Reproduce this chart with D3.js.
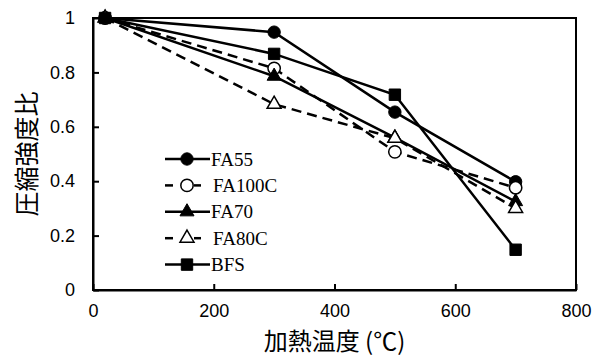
<!DOCTYPE html>
<html>
<head>
<meta charset="utf-8">
<script src="https://cdn.jsdelivr.net/npm/d3@7"></script>
<style>
  body { margin: 0; background: #fff; }
  .lg-text { font-family: "Liberation Serif", "Times New Roman", Times, "DejaVu Serif", serif; font-size: 19px; }
</style>
</head>
<body>
<div id="chart"></div>
<script>
"use strict";

// heating temperature (°C)
const temps = [20, 300, 500, 700];
const seriesNames = ["FA55", "FA100C", "FA70", "FA80C", "BFS"];
const fa55   = [1, 0.948, 0.654, 0.398];
const fa100c = [1, 0.815, 0.508, 0.376];
const fa70   = [1, 0.786, 0.56, 0.325];
const fa80c  = [1, 0.683, 0.558, 0.30];
const bfs    = [1, 0.868, 0.718, 0.148];
const xTicks = [0, 200, 400, 600, 800];
const yTicks = [0, 0.2, 0.4, 0.6, 0.8, 1];

const series = [
    {name: seriesNames[0], values: fa55,   marker: "circle",   filled: true,  dashed: false},
    {name: seriesNames[1], values: fa100c, marker: "circle",   filled: false, dashed: true},
    {name: seriesNames[2], values: fa70,   marker: "triangle", filled: true,  dashed: false},
    {name: seriesNames[3], values: fa80c,  marker: "triangle", filled: false, dashed: true},
    {name: seriesNames[4], values: bfs,    marker: "square",   filled: true,  dashed: false}
];

const W = 601, H = 358;
const m = {left: 93, right: 25, top: 18, bottom: 68};

const svg = d3.select("#chart").append("svg")
    .attr("width", W).attr("height", H);

const x = d3.scaleLinear().domain([0, 800]).range([m.left, W - m.right]);
const y = d3.scaleLinear().domain([0, 1]).range([H - m.bottom, m.top]);

const symbols = {
    circle: d3.symbol().type(d3.symbolCircle).size(120),
    triangle: d3.symbol().type(d3.symbolTriangle).size(85),
    square: d3.symbol().type(d3.symbolSquare).size(130)
};

// frame
svg.append("rect")
    .attr("x", x(0)).attr("y", y(1))
    .attr("width", x(800) - x(0)).attr("height", y(0) - y(1))
    .attr("fill", "none").attr("stroke", "#000").attr("stroke-width", 2);

// axes with inside ticks
const xAxis = svg.append("g")
    .attr("transform", `translate(0,${y(0)})`)
    .call(d3.axisBottom(x).tickValues(xTicks).tickSizeInner(-6).tickSizeOuter(0).tickPadding(14));
const yAxis = svg.append("g")
    .attr("transform", `translate(${x(0)},0)`)
    .call(d3.axisLeft(y).tickValues(yTicks).tickSizeInner(-6).tickSizeOuter(0).tickPadding(18)
        .tickFormat(d => d3.format("")(+d.toFixed(1))));

[xAxis, yAxis].forEach(a => {
    a.select(".domain").attr("stroke-width", 2);
    a.selectAll(".tick line").attr("stroke-width", 2);
    a.selectAll(".tick text")
        .attr("fill", "#000")
        .style("font-family", "'Liberation Sans', Arial, sans-serif")
        .style("font-size", "18px");
});

// axis titles
svg.append("text")
    .attr("x", x(400)).attr("y", 350)
    .attr("text-anchor", "middle")
    .style("font-family", "'Noto Sans CJK JP', sans-serif")
    .style("font-size", "24px")
    .text("加熱温度 (℃)");

svg.append("text")
    .attr("transform", `translate(36,${y(0.5)}) rotate(-90)`)
    .attr("text-anchor", "middle")
    .style("font-family", "'Noto Sans CJK JP', sans-serif")
    .style("font-size", "25px")
    .text("圧縮強度比");

const line = d3.line().x((d, i) => x(temps[i])).y(d => y(d));

series.forEach(s => {
    const g = svg.append("g");
    g.append("path")
        .datum(s.values)
        .attr("d", line)
        .attr("fill", "none")
        .attr("stroke", "#000")
        .attr("stroke-width", 2.5)
        .attr("stroke-dasharray", s.dashed ? "10,6" : null);
    g.selectAll("path.mk")
        .data(s.values)
        .enter()
        .append("path")
        .attr("class", "mk")
        .attr("d", symbols[s.marker])
        .attr("transform", (d, i) => `translate(${x(temps[i])},${y(d)})`)
        .attr("fill", s.filled ? "#000" : "#fff")
        .attr("stroke", "#000")
        .attr("stroke-width", s.filled ? 1 : 1.5);
});

// legend
const legend = svg.append("g").attr("transform", "translate(165,159)");
const lg = legend.selectAll("g")
    .data(series)
    .enter()
    .append("g")
    .attr("transform", (d, i) => `translate(0,${i * 26.4})`);

lg.each(function(s) {
    const g = d3.select(this);
    if (s.dashed) {
        g.append("line").attr("x1", 0).attr("x2", 8).attr("stroke", "#000").attr("stroke-width", 2.5);
        g.append("line").attr("x1", 29).attr("x2", 36).attr("stroke", "#000").attr("stroke-width", 2.5);
    } else {
        g.append("line").attr("x1", 0).attr("x2", 45).attr("stroke", "#000").attr("stroke-width", 2.5);
    }
    g.append("path")
        .attr("d", symbols[s.marker])
        .attr("transform", "translate(22,0)")
        .attr("fill", s.filled ? "#000" : "#fff")
        .attr("stroke", "#000")
        .attr("stroke-width", s.filled ? 1 : 1.5);
    g.append("text")
        .attr("class", "lg-text")
        .attr("x", s.dashed ? 48 : 46)
        .attr("y", 6.5)
        .text(s.name);
});
</script>
</body>
</html>
